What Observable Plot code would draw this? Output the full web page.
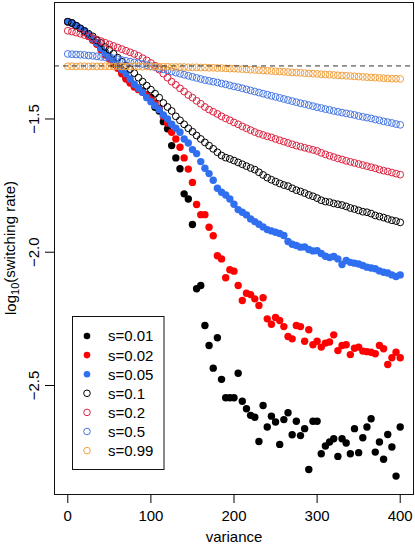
<!DOCTYPE html>
<html>
<head>
<meta charset="utf-8">
<script src="https://cdn.jsdelivr.net/npm/d3@7"></script>
<script src="https://cdn.jsdelivr.net/npm/@observablehq/plot@0.6"></script>
<style>
  body { margin: 0; background: white; }
  #wrap { position: relative; width: 415px; height: 544px; }
  #legend { position: absolute; left: 72px; top: 316px; }
</style>
</head>
<body>
<div id="wrap"></div>
<script>
const variance = [0,5,10,15,20,25,30,35,40,45,50,55,60,65,70,75,80,85,90,95,100,105,110,115,120,125,130,135,140,145,150,155,160,165,170,175,180,185,190,195,200,205,210,215,220,225,230,235,240,245,250,255,260,265,270,275,280,285,290,295,300,305,310,315,320,325,330,335,340,345,350,355,360,365,370,375,380,385,390,395,400];

const s001 = [
-1.135,-1.14,-1.15,-1.16,-1.17,-1.185,-1.20,-1.215,-1.235,-1.25,
-1.27,-1.29,-1.305,-1.325,-1.345,-1.36,-1.375,-1.385,-1.395,-1.41,
-1.419,-1.456,-1.47,-1.51,-1.537,-1.60,-1.646,-1.687,-1.781,-1.80,
-1.896,-2.137,-2.125,-2.275,-2.35,-2.435,-2.321,-2.477,-2.546,-2.546,
-2.546,-2.454,-2.559,-2.587,-2.612,-2.619,-2.71,-2.575,-2.656,-2.615,
-2.637,-2.721,-2.628,-2.602,-2.685,-2.634,-2.688,-2.662,-2.815,-2.634,
-2.634,-2.756,-2.727,-2.712,-2.70,-2.766,-2.70,-2.716,-2.756,-2.662,
-2.752,-2.696,-2.656,-2.625,-2.75,-2.712,-2.777,-2.684,-2.731,-2.84,-2.656];

const s002 = [
-1.135,-1.14,-1.15,-1.16,-1.175,-1.19,-1.205,-1.22,-1.24,-1.26,
-1.275,-1.295,-1.31,-1.33,-1.35,-1.365,-1.38,-1.39,-1.40,-1.41,
-1.425,-1.44,-1.46,-1.49,-1.515,-1.55,-1.575,-1.606,-1.646,-1.688,
-1.738,-1.821,-1.859,-1.859,-1.906,-1.938,-2.013,-2.025,-2.096,-2.066,
-2.071,-2.125,-2.181,-2.154,-2.159,-2.175,-2.20,-2.171,-2.25,-2.27,
-2.245,-2.256,-2.279,-2.316,-2.325,-2.275,-2.279,-2.334,-2.291,-2.347,
-2.334,-2.356,-2.341,-2.337,-2.31,-2.369,-2.35,-2.347,-2.384,-2.36,
-2.356,-2.371,-2.373,-2.375,-2.381,-2.35,-2.362,-2.421,-2.396,-2.375,-2.396];

const s005 = [
-1.135,-1.14,-1.15,-1.16,-1.17,-1.185,-1.20,-1.215,-1.235,-1.25,
-1.265,-1.28,-1.30,-1.315,-1.33,-1.35,-1.37,-1.385,-1.40,-1.42,
-1.435,-1.45,-1.465,-1.485,-1.50,-1.52,-1.535,-1.55,-1.575,-1.59,
-1.615,-1.63,-1.66,-1.685,-1.705,-1.73,-1.76,-1.775,-1.785,-1.80,
-1.82,-1.84,-1.85,-1.86,-1.875,-1.885,-1.895,-1.905,-1.915,-1.92,
-1.925,-1.93,-1.937,-1.96,-1.97,-1.975,-1.981,-1.98,-1.99,-1.995,
-1.994,-2.005,-2.015,-2.02,-2.016,-2.025,-2.046,-2.031,-2.038,-2.041,
-2.044,-2.05,-2.056,-2.059,-2.062,-2.07,-2.075,-2.078,-2.085,-2.091,-2.085];

const s01 = [
-1.135,-1.14,-1.15,-1.16,-1.17,-1.18,-1.19,-1.205,-1.215,-1.23,
-1.24,-1.255,-1.27,-1.285,-1.30,-1.313,-1.328,-1.345,-1.36,-1.375,
-1.39,-1.405,-1.42,-1.44,-1.455,-1.47,-1.49,-1.505,-1.52,-1.535,
-1.548,-1.562,-1.575,-1.588,-1.60,-1.612,-1.625,-1.637,-1.645,-1.65,
-1.656,-1.663,-1.67,-1.677,-1.684,-1.69,-1.70,-1.71,-1.72,-1.728,
-1.735,-1.742,-1.748,-1.752,-1.76,-1.767,-1.772,-1.778,-1.785,-1.79,
-1.797,-1.805,-1.81,-1.812,-1.817,-1.82,-1.823,-1.828,-1.834,-1.838,
-1.843,-1.848,-1.85,-1.855,-1.862,-1.866,-1.87,-1.875,-1.88,-1.883,-1.888];

const s02 = [
-1.169,-1.172,-1.176,-1.18,-1.185,-1.19,-1.196,-1.202,-1.208,-1.214,
-1.22,-1.226,-1.232,-1.238,-1.244,-1.25,-1.256,-1.263,-1.272,-1.28,
-1.29,-1.30,-1.315,-1.33,-1.345,-1.36,-1.372,-1.385,-1.397,-1.41,
-1.42,-1.432,-1.443,-1.455,-1.465,-1.473,-1.481,-1.49,-1.498,-1.505,
-1.513,-1.52,-1.528,-1.535,-1.542,-1.549,-1.555,-1.56,-1.565,-1.569,
-1.575,-1.58,-1.585,-1.59,-1.595,-1.60,-1.604,-1.608,-1.612,-1.616,
-1.62,-1.627,-1.633,-1.638,-1.643,-1.648,-1.652,-1.657,-1.661,-1.665,
-1.669,-1.673,-1.677,-1.681,-1.685,-1.69,-1.694,-1.697,-1.701,-1.705,-1.709];

const s05 = [
-1.256,-1.257,-1.258,-1.259,-1.26,-1.262,-1.263,-1.265,-1.267,-1.269,
-1.271,-1.273,-1.276,-1.279,-1.282,-1.285,-1.288,-1.291,-1.294,-1.298,
-1.302,-1.306,-1.31,-1.314,-1.318,-1.322,-1.326,-1.33,-1.334,-1.338,
-1.342,-1.346,-1.35,-1.354,-1.357,-1.36,-1.363,-1.367,-1.37,-1.374,
-1.378,-1.381,-1.385,-1.389,-1.393,-1.397,-1.401,-1.405,-1.409,-1.413,
-1.417,-1.421,-1.425,-1.429,-1.433,-1.437,-1.441,-1.444,-1.448,-1.452,
-1.456,-1.459,-1.463,-1.466,-1.47,-1.473,-1.476,-1.479,-1.482,-1.485,
-1.489,-1.492,-1.495,-1.498,-1.502,-1.505,-1.509,-1.512,-1.515,-1.519,-1.522];

const s099 = [
-1.302,-1.302,-1.303,-1.302,-1.302,-1.303,-1.302,-1.303,-1.303,-1.302,
-1.303,-1.303,-1.302,-1.303,-1.303,-1.303,-1.303,-1.303,-1.304,-1.303,
-1.304,-1.304,-1.304,-1.304,-1.304,-1.305,-1.305,-1.305,-1.305,-1.306,
-1.306,-1.306,-1.307,-1.307,-1.308,-1.308,-1.309,-1.309,-1.310,-1.311,
-1.311,-1.312,-1.313,-1.314,-1.315,-1.316,-1.317,-1.318,-1.319,-1.32,
-1.321,-1.322,-1.323,-1.324,-1.325,-1.326,-1.327,-1.328,-1.329,-1.33,
-1.331,-1.332,-1.333,-1.334,-1.335,-1.336,-1.337,-1.338,-1.339,-1.34,
-1.341,-1.342,-1.343,-1.344,-1.345,-1.346,-1.347,-1.348,-1.349,-1.349,-1.35];

const seriesNames = ["s=0.01","s=0.02","s=0.05","s=0.1","s=0.2","s=0.5","s=0.99"];
const seriesValues = [s001, s002, s005, s01, s02, s05, s099];
const seriesColors = ["#000000","#ff0000","#2f6ff0","#000000","#dc2340","#4677e2","#f2a03f"];
const seriesFilled = [true, true, true, false, false, false, false];

const threshold = -1.30103; // log10(0.05)
const xTicks = [0, 100, 200, 300, 400];
const xTickLabels = ["0", "100", "200", "300", "400"];
const yTicks = [-2.5, -2.0, -1.5];
const yTickLabels = ["\u22122.5", "\u22122.0", "\u22121.5"];
const xLabel = "variance";

const FONT = "'Liberation Sans', Arial, Helvetica, sans-serif";

const marks = [];
seriesNames.forEach((name, k) => {
  const rows = variance.map((v, i) => ({variance: v, value: seriesValues[k][i], series: name}));
  if (seriesFilled[k]) {
    marks.push(Plot.dot(rows, {x: "variance", y: "value", r: 3.7, fill: seriesColors[k], stroke: "none"}));
  } else {
    marks.push(Plot.dot(rows, {x: "variance", y: "value", r: 3.4, fill: "none", stroke: seriesColors[k], strokeWidth: 1}));
  }
});
marks.push(Plot.ruleY([threshold], {stroke: "#333", strokeWidth: 1, strokeDasharray: "5,4"}));
marks.push(Plot.frame({stroke: "#111", strokeWidth: 1}));
marks.push(Plot.axisX(xTicks, {tickSize: 9, tickPadding: 7, label: null,
  tickFormat: d => xTickLabels[xTicks.indexOf(d)]}));
marks.push(Plot.axisY(yTicks, {tickSize: 9, tickPadding: 7, tickRotate: -90, label: null,
  tickFormat: d => yTickLabels[yTicks.indexOf(d)]}));
marks.push(Plot.text([xLabel], {text: d => d, frameAnchor: "bottom", lineAnchor: "bottom", dy: 47.5}));

const chart = Plot.plot({
  width: 415,
  height: 544,
  marginLeft: 54,
  marginRight: 2,
  marginTop: 2,
  marginBottom: 50,
  x: {domain: [-16, 416], axis: null},
  y: {domain: [-2.909, -1.063], axis: null},
  style: {fontFamily: FONT, fontSize: "15px", background: "white", color: "black", overflow: "visible"},
  marks
});
document.getElementById("wrap").appendChild(chart);

// y axis title with subscript
const svg = d3.select(chart);
const yt = svg.append("text")
  .attr("transform", "translate(16,248) rotate(-90)")
  .attr("text-anchor", "middle")
  .attr("fill", "black")
  .style("font-family", FONT)
  .style("font-size", "15px");
yt.append("tspan").text("log");
yt.append("tspan").attr("dy", "0.3em").style("font-size", "11px").text("10");
yt.append("tspan").attr("dy", "-0.3em").text("(switching rate)");

// legend
const lw = 92, lh = 154, rowH = 19.1;
const leg = d3.select("#wrap").append("svg")
  .attr("id", "legend")
  .attr("width", lw + 1).attr("height", lh + 1);
leg.append("rect").attr("x", 0.5).attr("y", 0.5).attr("width", lw - 0.5).attr("height", lh - 1)
  .attr("fill", "white").attr("stroke", "#111");
seriesNames.forEach((name, k) => {
  const cy = 20 + rowH * k;
  leg.append("circle").attr("cx", 15).attr("cy", cy).attr("r", 3.3)
    .attr("fill", seriesFilled[k] ? seriesColors[k] : "none")
    .attr("stroke", seriesFilled[k] ? "none" : seriesColors[k])
    .attr("stroke-width", 1);
  leg.append("text").attr("x", 36).attr("y", cy).attr("dy", "0.36em")
    .style("font-family", FONT).style("font-size", "15px").attr("fill", "black")
    .text(name);
});
</script>
</body>
</html>
